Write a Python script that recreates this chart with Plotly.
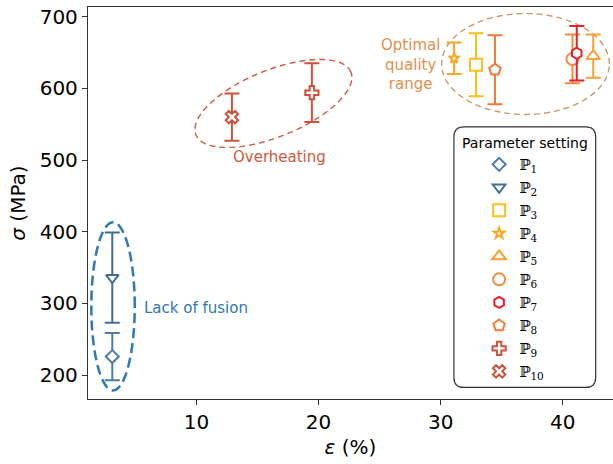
import numpy as np
import plotly.graph_objects as go

# ---------------- data ----------------
names = ["ℙ<sub>1</sub>", "ℙ<sub>2</sub>", "ℙ<sub>3</sub>", "ℙ<sub>4</sub>", "ℙ<sub>5</sub>",
         "ℙ<sub>6</sub>", "ℙ<sub>7</sub>", "ℙ<sub>8</sub>", "ℙ<sub>9</sub>", "ℙ<sub>10</sub>"]
strain = [3.1, 3.1, 32.9, 31.1, 42.5, 40.8, 41.15, 34.45, 19.45, 12.9]      # epsilon (%)
stress = [226, 336, 633, 642, 645, 641, 649, 626, 594, 560]                 # sigma (MPa)
stress_err = [33, 63, 44, 22, 30, 34, 38, 48, 41, 33]

symbols = ["diamond", "triangle-down", "square", "star", "triangle-up",
           "circle", "hexagon", "pentagon", "cross", "x"]
colors = ["#4a7ea6", "#3d7099", "#fdbf1c", "#f8a824", "#f7a033",
          "#f28c3c", "#e8202c", "#ef7b3b", "#d0503c", "#c8553d"]
sizes = [10, 11, 12, 8, 12, 12, 11, 12, 11, 11]

x_ticks = [10, 20, 30, 40]
y_ticks = [200, 300, 400, 500, 600, 700]
x_range = [1.11, 44.12]
y_range = [166.8, 713.5]

# region ellipses: (label, centre x, centre y, axis-1 vector, axis-2 vector)
region_labels = ["Lack of fusion", "Overheating", "Optimal<br>quality<br>range"]
region_centre_x = [3.16, 16.3, 36.95]
region_centre_y = [296, 579, 634]
region_u = [(1.78, 0.0), (6.35, 43.7), (6.87, 0.0)]
region_v = [(0.0, 117.2), (-1.02, 43.1), (0.0, 70.4)]
region_colors = ["#2f78b2", "#cf5a40", "#c9976a"]
region_text_colors = ["#2f78b2", "#cf5a40", "#e3904c"]
region_text_x = [5.57, 16.8, 27.5]
region_text_y = [294, 504, 633]

fig = go.Figure()

for i in range(len(names)):
    fig.add_trace(go.Scatter(
        x=[strain[i]], y=[stress[i]], mode="markers", name=names[i],
        legendgroup=f"g{i}",
        marker=dict(symbol=symbols[i], size=sizes[i], color="white",
                    line=dict(color=colors[i], width=2)),
        error_y=dict(type="data", array=[stress_err[i]], visible=True,
                     color=colors[i], thickness=2, width=7.5),
    ))

# ellipses
t = np.linspace(0, 2 * np.pi, 121)
for k in range(len(region_labels)):
    ux, uy = region_u[k]
    vx, vy = region_v[k]
    ex = region_centre_x[k] + ux * np.cos(t) + vx * np.sin(t)
    ey = region_centre_y[k] + uy * np.cos(t) + vy * np.sin(t)
    path = "M " + " L ".join(f"{a:.4f},{b:.4f}" for a, b in zip(ex, ey)) + " Z"
    if k == 0:
        line = dict(color=region_colors[k], width=2.5, dash="10px,5px")
    else:
        line = dict(color=region_colors[k], width=1.4, dash="6px,4px")
    fig.add_shape(type="path", path=path, xref="x", yref="y", line=line, layer="below")

# region labels
fig.add_annotation(x=region_text_x[0], y=region_text_y[0], text=region_labels[0],
                   showarrow=False, xanchor="left", yanchor="middle",
                   font=dict(size=15, color=region_text_colors[0]))
fig.add_annotation(x=region_text_x[1], y=region_text_y[1], text=region_labels[1],
                   showarrow=False, xanchor="center", yanchor="middle",
                   font=dict(size=15, color=region_text_colors[1]))
fig.add_annotation(x=region_text_x[2], y=region_text_y[2], text=region_labels[2],
                   showarrow=False, xanchor="center", yanchor="middle", align="center",
                   font=dict(size=15, color=region_text_colors[2]))

# rounded legend frame
bx0, bx1, by0, by1 = 0.697, 0.967, 0.0296, 0.694
rx, ry = 0.019, 0.0255
frame = (f"M {bx0+rx},{by0} L {bx1-rx},{by0} Q {bx1},{by0} {bx1},{by0+ry} "
         f"L {bx1},{by1-ry} Q {bx1},{by1} {bx1-rx},{by1} "
         f"L {bx0+rx},{by1} Q {bx0},{by1} {bx0},{by1-ry} "
         f"L {bx0},{by0+ry} Q {bx0},{by0} {bx0+rx},{by0} Z")
fig.add_shape(type="path", path=frame, xref="paper", yref="paper",
              line=dict(color="#333333", width=1.2), fillcolor="white", layer="below")
fig.add_annotation(x=(bx0 + bx1) / 2, y=0.652, xref="paper", yref="paper",
                   text="Parameter setting", showarrow=False,
                   font=dict(size=14, color="black"), xanchor="center", yanchor="middle")

axis_common = dict(showline=True, linecolor="#333333", linewidth=1.3,
                   ticks="outside", ticklen=5, tickwidth=1.2, tickcolor="#333333",
                   showgrid=False, zeroline=False,
                   tickfont=dict(size=20, color="black"))

fig.update_layout(
    width=613, height=464,
    margin=dict(l=88, r=0, t=7, b=65),
    paper_bgcolor="white", plot_bgcolor="white",
    font=dict(family="DejaVu Sans", color="black"),
    showlegend=True,
    legend=dict(x=0.745, y=0.64, xanchor="left", yanchor="top",
                bgcolor="rgba(0,0,0,0)", borderwidth=0,
                traceorder="grouped", tracegroupgap=0.5,
                font=dict(family="DejaVu Serif", size=15, color="black")),
    xaxis=dict(range=x_range, tickvals=x_ticks, mirror=True,
               title=dict(text="<i>ε</i> (%)", font=dict(size=20), standoff=6),
               **axis_common),
    yaxis=dict(range=y_range, tickvals=y_ticks, mirror=False,
               title=dict(text="<i>σ</i> (MPa)", font=dict(size=20), standoff=8),
               **axis_common),
)

fig.write_html("out.html", config={"displayModeBar": False},
               post_script="document.body.style.margin='0px';document.body.style.overflow='hidden';")
